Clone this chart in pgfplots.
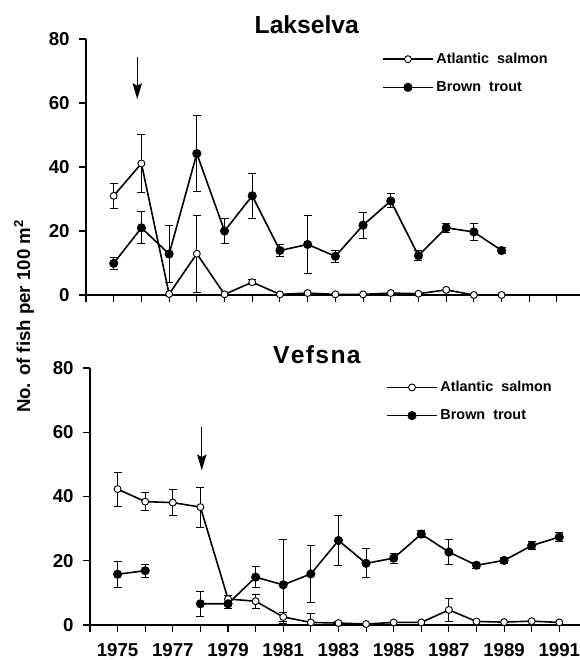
\documentclass[border=0pt]{standalone}
\usepackage{fontspec}
\setmainfont{Liberation Sans}
\usepackage{pgfplots}
\pgfplotsset{compat=1.18}
\usetikzlibrary{arrows.meta}

\pgfplotsset{
  panel/.style={
    scale only axis,
    axis lines*=left,
    axis line style={line width=1pt},
    ymin=0, ymax=80,
    ytick={0,20,40,60,80},
    tick align=outside,
    major tick length=5.5pt,
    minor tick length=5.5pt,
    every tick/.style={black, line width=0.8pt},
    tick label style={font=\fontsize{14}{16}\selectfont\bfseries},
    yticklabel style={xshift=-3.3pt},
    xticklabel style={inner ysep=1pt, yshift=-7pt},
    /pgf/number format/assume math mode=true,
    /pgf/number format/1000 sep={},
    clip=false,
    legend cell align=left,
    legend style={draw=none, fill=none, font=\fontsize{10.8}{13}\selectfont\bfseries,
      row sep=8pt, inner sep=0pt},
    legend image code/.code={
      \draw[mark repeat=2,mark phase=2] plot coordinates {(0pt,0pt)(18.75pt,0pt)(37.5pt,0pt)};},
  },
  salmon/.style={black, line width=1.2pt, mark=*, mark size=2.6pt,
    mark options={fill=white, line width=0.7pt}},
  trout/.style={black, line width=1.2pt, mark=*, mark size=2.8pt,
    mark options={fill=black}},
  errs/.style={forget plot, draw=none, mark=none,
    error bars/.cd, y dir=both, y explicit,
    error bar style={draw=black, line width=0.7pt},
    error mark options={draw=black, rotate=90, mark size=3pt, line width=0.7pt}},
}

\begin{document}
\begin{tikzpicture}
\useasboundingbox (-64.5pt,-26.25pt) rectangle (370.5pt,468.75pt);

% Lakselva
\begin{axis}[panel,
  at={(0pt,247.5pt)}, anchor=south west,
  width=370.5pt, height=192pt,
  xmin=1974, xmax=1991.83,
  xtick={1974,...,1991}, xticklabels={},
  legend style={at={(0.599,0.957)}, anchor=north west},
]
% error bars
\addplot[errs] coordinates {
  (1975,31.0) +- (0,4)
  (1976,41.1) +- (0,9)
  (1978,12.9) +- (0,12)
  (1980,4.0)  +- (0,0.8)
};
\addplot[errs] coordinates {
  (1975,9.9)  +- (0,1.9)
  (1976,21.0) +- (0,5)
  (1977,12.8) +- (0,9)
  (1978,44.2) +- (0,12)
  (1979,20.0) +- (0,4)
  (1980,31.0) +- (0,7)
  (1981,13.9) +- (0,2)
  (1982,15.8) +- (0,9)
  (1983,12.1) +- (0,1.8)
  (1984,21.8) +- (0,4)
  (1985,29.4) +- (0,2.2)
  (1986,12.3) +- (0,1.6)
  (1987,21.0) +- (0,1.5)
  (1988,19.7) +- (0,2.8)
  (1989,13.9) +- (0,1)
};
% means
\addplot[salmon] coordinates {
  (1975,31.0) (1976,41.1) (1977,0.3) (1978,12.9) (1979,0.2) (1980,4.0)
  (1981,0.2) (1982,0.6) (1983,0.2) (1984,0.2) (1985,0.6) (1986,0.4)
  (1987,1.6) (1988,0) (1989,0)
};
\addplot[trout] coordinates {
  (1975,9.9) (1976,21.0) (1977,12.8) (1978,44.2) (1979,20.0) (1980,31.0)
  (1981,13.9) (1982,15.8) (1983,12.1) (1984,21.8) (1985,29.4) (1986,12.3)
  (1987,21.0) (1988,19.7) (1989,13.9)
};
\legend{Atlantic\ \ salmon, Brown\ \ trout}
\draw[-{Stealth[length=12pt,width=7pt,inset=2pt]}, line width=0.8pt]
  (axis cs:1975.85,74.5) -- (axis cs:1975.85,61.2);
\node[anchor=base, font=\fontsize{18.5}{22}\selectfont\bfseries]
  at ([yshift=4.5pt]rel axis cs:0.447,1) {Lakselva};
\end{axis}

% Vefsna
\begin{axis}[panel,
  at={(3pt,0pt)}, anchor=south west,
  width=367.5pt, height=192.75pt,
  xmin=1974, xmax=1991.75,
  xtick={1975,1977,...,1991},
  minor xtick={1974,1976,...,1990},
  legend style={at={(0.604,0.96)}, anchor=north west},
]
\addplot[errs] coordinates {
  (1975,42.3) +- (0,5.3)
  (1976,38.4) +- (0,2.7)
  (1977,38.1) +- (0,4)
  (1978,36.7) +- (0,6.2)
  (1979,8.1)  +- (0,1.1)
  (1980,7.4)  +- (0,2.2)
  (1981,2.5)  +- (0,1.5)
  (1982,0.8)  += (0,2.7) -= (0,0.8)
  (1983,0.6)  +- (0,0.5)
  (1987,4.7)  +- (0,3.6)
};
\addplot[errs] coordinates {
  (1975,15.8) +- (0,4.1)
  (1976,16.9) +- (0,2)
  (1978,6.6)  +- (0,3.9)
  (1979,6.6)  +- (0,1.4)
  (1980,14.9) +- (0,3.2)
  (1981,12.5) += (0,14.1) -= (0,11.9)
  (1982,15.9) +- (0,9)
  (1983,26.3) +- (0,7.9)
  (1984,19.2) +- (0,4.5)
  (1985,20.8) +- (0,1.5)
  (1986,28.3) +- (0,1.2)
  (1987,22.7) +- (0,3.9)
  (1988,18.6) +- (0,1)
  (1989,20.1) +- (0,1)
  (1990,24.7) +- (0,1.2)
  (1991,27.4) +- (0,1.5)
};
\addplot[salmon] coordinates {
  (1975,42.3) (1976,38.4) (1977,38.1) (1978,36.7) (1979,8.1) (1980,7.4)
  (1981,2.5) (1982,0.8) (1983,0.6) (1984,0.3) (1985,0.8) (1986,0.8)
  (1987,4.7) (1988,1.1) (1989,0.9) (1990,1.2) (1991,0.8)
};
\addplot[trout, unbounded coords=jump] coordinates {
  (1975,15.8) (1976,16.9) (1977,nan) (1978,6.6) (1979,6.6) (1980,14.9)
  (1981,12.5) (1982,15.9) (1983,26.3) (1984,19.2) (1985,20.8) (1986,28.3)
  (1987,22.7) (1988,18.6) (1989,20.1) (1990,24.7) (1991,27.4)
};
\legend{Atlantic\ \ salmon, Brown\ \ trout}
\draw[-{Stealth[length=12pt,width=7pt,inset=2pt]}, line width=0.8pt]
  (axis cs:1978.05,61.6) -- (axis cs:1978.05,48.1);
\node[anchor=base, font=\fontsize{18.5}{22}\selectfont\bfseries]
  at ([yshift=3pt]rel axis cs:0.463,1) {V\kern1pt e\kern1pt f\kern1pt s\kern1pt n\kern1pt a};
\end{axis}

\node[rotate=90, font=\fontsize{14}{16}\selectfont\bfseries] at (-46.5pt,231.5pt)
  {No. of fish per 100 m\textsuperscript{2}};
\end{tikzpicture}
\end{document}
